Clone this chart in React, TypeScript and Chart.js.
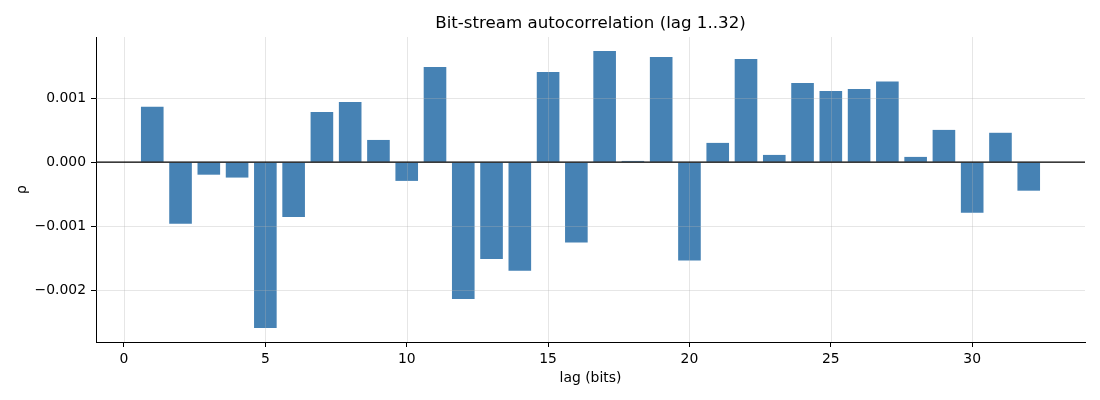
import React, { useEffect, useRef } from "react";
import { Chart, registerables } from "chart.js";

Chart.register(...registerables);

const lags = [1, 2, 3, 4, 5, 6, 7, 8, 9, 10, 11, 12, 13, 14, 15, 16, 17, 18, 19, 20, 21, 22, 23, 24, 25, 26, 27, 28, 29, 30, 31, 32];
const rho = [
  0.000866, -0.00096, -0.000195, -0.00024, -0.00259, -0.000855, 0.000786, 0.000942,
  0.000348, -0.000292, 0.001489, -0.002136, -0.001511, -0.001698, 0.001411, -0.001256,
  0.001739, 0.00002, 0.001645, -0.001537, 0.000302, 0.001614, 0.000114, 0.001239,
  0.001114, 0.001145, 0.00126, 0.000083, 0.000505, -0.00079, 0.00046, -0.000445,
];
const xTicks = [0, 5, 10, 15, 20, 25, 30];
const yTicks = [-0.002, -0.001, 0, 0.001];
const xRange = [-0.99, 33.99];
const yRange = [-0.00281, 0.001957];

const titleText = "Bit-stream autocorrelation (lag 1..32)";
const xLabel = "lag (bits)";
const yLabel = "ρ";

const FONT = "'DejaVu Sans', 'Liberation Sans', sans-serif";

const overlayPlugin = {
  id: "overlay",
  afterDatasetsDraw(chart: any) {
    const { ctx, chartArea, scales } = chart;
    const xs = scales.x;
    const ys = scales.y;
    ctx.save();
    ctx.beginPath();
    ctx.rect(chartArea.left, chartArea.top, chartArea.right - chartArea.left, chartArea.bottom - chartArea.top);
    ctx.clip();
    ctx.strokeStyle = "rgba(176,176,176,0.32)";
    ctx.lineWidth = 1;
    for (const v of xTicks) {
      const px = Math.round(xs.getPixelForValue(v)) + 0.5;
      ctx.beginPath();
      ctx.moveTo(px, chartArea.top);
      ctx.lineTo(px, chartArea.bottom);
      ctx.stroke();
    }
    for (const v of yTicks) {
      const py = Math.round(ys.getPixelForValue(v)) + 0.5;
      ctx.beginPath();
      ctx.moveTo(chartArea.left, py);
      ctx.lineTo(chartArea.right, py);
      ctx.stroke();
    }
    const y0 = ys.getPixelForValue(0);
    ctx.strokeStyle = "#000";
    ctx.lineWidth = 1.2;
    ctx.beginPath();
    ctx.moveTo(chartArea.left, y0);
    ctx.lineTo(chartArea.right, y0);
    ctx.stroke();
    ctx.restore();
  },
};

function fmtY(v: number) {
  if (Math.abs(v) < 1e-12) return "0.000";
  return (v < 0 ? "\u2212" : "") + Math.abs(v).toFixed(3);
}

export default function App() {
  const ref = useRef<HTMLCanvasElement | null>(null);
  useEffect(() => {
    if (!ref.current) return;
    Chart.defaults.font.family = FONT;
    Chart.defaults.color = "#000";
    const chart = new Chart(ref.current, {
      type: "bar",
      data: {
        datasets: [
          {
            data: lags.map((l, i) => ({ x: l, y: rho[i] })),
            backgroundColor: "#4682b4",
            borderWidth: 0,
            barPercentage: 0.8,
            categoryPercentage: 1.0,
          } as any,
        ],
      },
      options: {
        animation: false,
        responsive: true,
        maintainAspectRatio: false,
        devicePixelRatio: 1,
        layout: { padding: { left: 0, right: 15, top: 0, bottom: 0 } },
        plugins: {
          legend: { display: false },
          tooltip: { enabled: false },
          title: {
            display: true,
            text: titleText,
            fullSize: false,
            color: "#000",
            font: { size: 16.67, weight: "normal", family: FONT, lineHeight: 1.2 },
            padding: { top: 14, bottom: 3 },
          },
        },
        scales: {
          x: {
            type: "linear",
            offset: false,
            min: xRange[0],
            max: xRange[1],
            afterBuildTicks: (s: any) => {
              s.ticks = xTicks.map((v) => ({ value: v }));
            },
            afterFit: (s: any) => {
              s.height = 58;
            },
            ticks: {
              autoSkip: false,
              maxRotation: 0,
              padding: 4,
              color: "#000",
              font: { size: 13.9, family: FONT },
              callback: (v: any) => String(v),
            },
            grid: {
              offset: false,
              drawOnChartArea: false,
              drawTicks: true,
              tickLength: 5,
              tickColor: "#000",
              tickWidth: 1,
            },
            border: { display: true, color: "#000", width: 1 },
            title: {
              display: true,
              text: xLabel,
              color: "#000",
              font: { size: 13.9, family: FONT, lineHeight: 1.2 },
              padding: { top: 0, bottom: 13 },
            },
          },
          y: {
            type: "linear",
            min: yRange[0],
            max: yRange[1],
            afterBuildTicks: (s: any) => {
              s.ticks = yTicks.map((v) => ({ value: v }));
            },
            afterFit: (s: any) => {
              s.width = 96;
            },
            ticks: {
              padding: 5,
              color: "#000",
              font: { size: 13.9, family: FONT },
              callback: (v: any) => fmtY(Number(v)),
            },
            grid: {
              drawOnChartArea: false,
              drawTicks: true,
              tickLength: 5,
              tickColor: "#000",
              tickWidth: 1,
            },
            border: { display: true, color: "#000", width: 1 },
            title: {
              display: true,
              text: yLabel,
              color: "#000",
              font: { size: 13.9, family: FONT, lineHeight: 1.2 },
              padding: { top: 14, bottom: 0 },
            },
          },
        },
      } as any,
      plugins: [overlayPlugin],
    });
    return () => chart.destroy();
  }, []);
  return (
    <div style={{ position: "absolute", left: 0, top: 0, width: 1100, height: 400 }}>
      <canvas ref={ref} />
    </div>
  );
}
